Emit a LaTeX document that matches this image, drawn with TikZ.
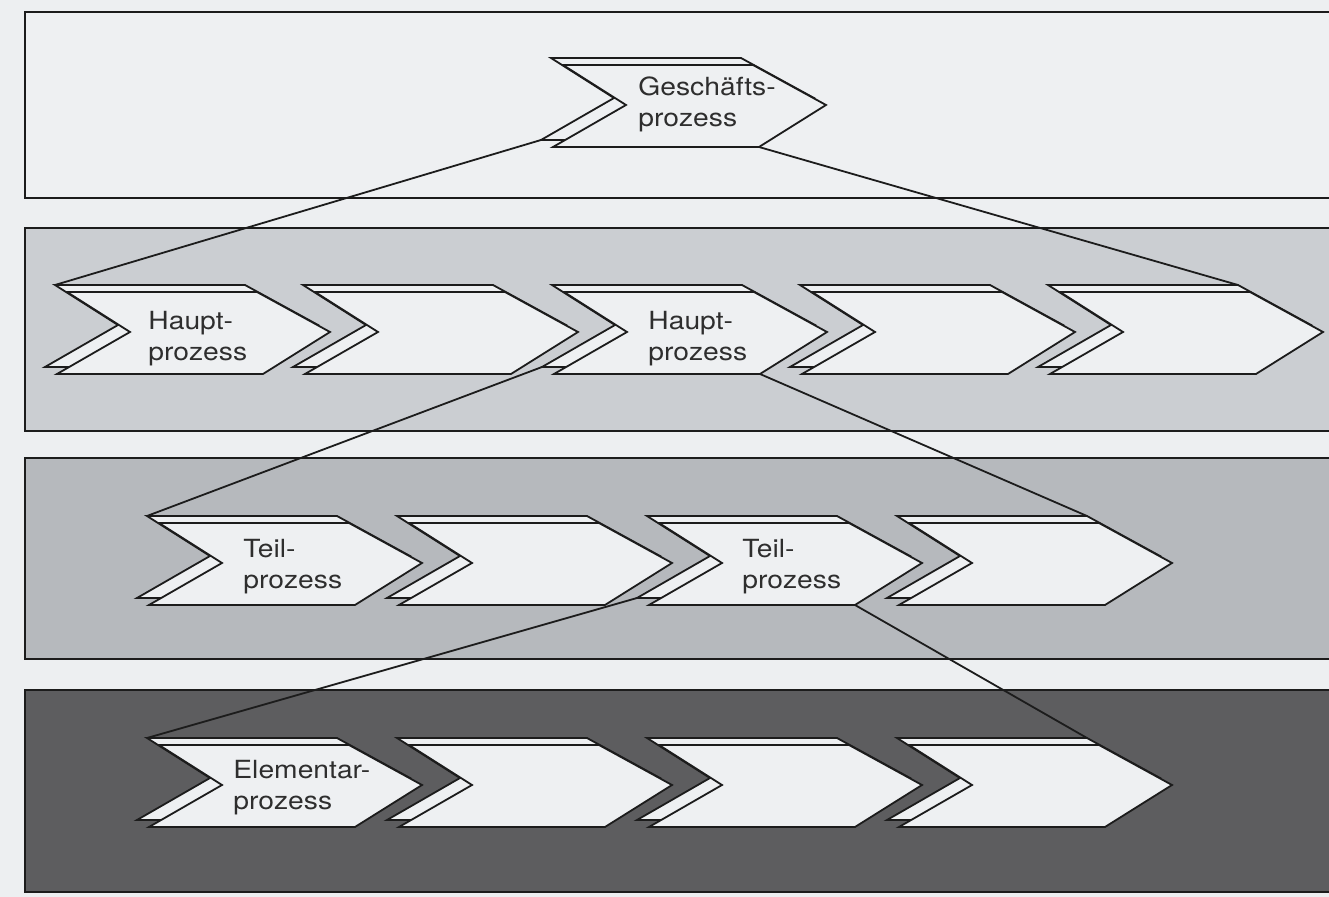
\documentclass[tikz,border=0pt]{standalone}
\usepackage{fontspec}
\newfontfamily\chevfont[FakeStretch=1.13]{TeX Gyre Heros}
\definecolor{bgcol}{HTML}{EDEFF1}
\definecolor{bandA}{HTML}{EEF0F2}
\definecolor{bandB}{HTML}{CBCED2}
\definecolor{bandC}{HTML}{B6B9BD}
\definecolor{bandD}{HTML}{5D5D5F}
\definecolor{chevfill}{HTML}{EEF0F2}
\definecolor{inkcol}{HTML}{1C1C1C}
\definecolor{txtcol}{HTML}{2E2E2E}
\tikzset{
  band/.style={draw=inkcol, line width=1pt},
  chevface/.style={fill=chevfill, draw=inkcol, line width=0.9pt, line join=miter},
  conn/.style={draw=inkcol, line width=0.9pt},
  chevtext/.style={anchor=west, inner sep=0pt, align=left, text=txtcol,
                   font=\chevfont\fontsize{12.5}{15.5}\selectfont},
  chevron/.pic={
    \path[chevface] (-12,-7) -- (178,-7) -- (251,33) -- (184,75) -- (-22,75) -- (51,33) -- cycle;
    \path[chevface] (0,0) -- (190,0) -- (263,40) -- (196,82) -- (-10,82) -- (63,40) -- cycle;
    \coordinate (-tl) at (-12,-7);
    \coordinate (-tr) at (178,-7);
    \coordinate (-bl) at (-22,75);
    \coordinate (-br) at (196,82);
  }
}
\begin{document}
\begin{tikzpicture}[x=0.5pt, y=-0.5pt]
  \useasboundingbox (0,0) rectangle (1329,897);
  \clip (0,0) rectangle (1329,897);
  \fill[bgcol] (0,0) rectangle (1329,897);

  % bands
  \path[band, fill=bandA] (25,12) rectangle (1345,198);
  \path[band, fill=bandB] (25,228) rectangle (1345,431);
  \path[band, fill=bandC] (25,458) rectangle (1345,659);
  \path[band, fill=bandD] (25,690) rectangle (1345,892);

  % chevrons
  \pic (g) at (563,65) {chevron};

  \pic (h1) at (67,292) {chevron};
  \pic (h2) at (315,292) {chevron};
  \pic (h3) at (564,292) {chevron};
  \pic (h4) at (812,292) {chevron};
  \pic (h5) at (1060,292) {chevron};

  \pic (t1) at (159,523) {chevron};
  \pic (t2) at (409,523) {chevron};
  \pic (t3) at (659,523) {chevron};
  \pic (t4) at (909,523) {chevron};

  \pic (e1) at (159,745) {chevron};
  \pic (e2) at (409,745) {chevron};
  \pic (e3) at (659,745) {chevron};
  \pic (e4) at (909,745) {chevron};

  % connectors
  \draw[conn] (g-bl) -- (h1-tl);
  \draw[conn] (g-br) -- (h5-tr);
  \draw[conn] (h3-bl) -- (t1-tl);
  \draw[conn] (h3-br) -- (t4-tr);
  \draw[conn] (t3-bl) -- (e1-tl);
  \draw[conn] (t3-br) -- (e4-tr);

  % labels
  \node[chevtext] (lg) at (638,104) {Geschäfts-\\prozess};
  \node[chevtext] (lh1) at (148,339) {Haupt-\\prozess};
  \node[chevtext] (lh3) at (648,339) {Haupt-\\prozess};
  \node[chevtext] (lt1) at (243,567) {Teil-\\prozess};
  \node[chevtext] (lt3) at (742,567) {Teil-\\prozess};
  \node[chevtext] (le1) at (233,788) {Elementar-\\prozess};
\end{tikzpicture}
\end{document}
